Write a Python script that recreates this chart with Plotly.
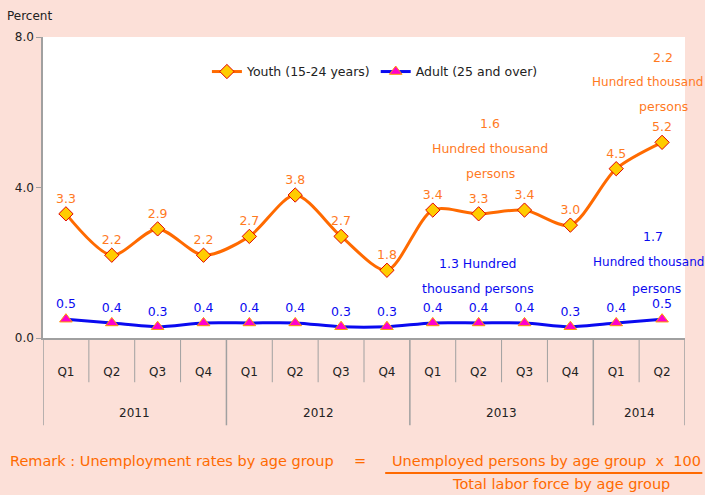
import plotly.graph_objects as go

quarters = ["Q1", "Q2", "Q3", "Q4", "Q1", "Q2", "Q3", "Q4", "Q1", "Q2", "Q3", "Q4", "Q1", "Q2"]
years = ["2011", "2012", "2013", "2014"]
youth = [3.3, 2.2, 2.9, 2.2, 2.7, 3.8, 2.7, 1.8, 3.4, 3.3, 3.4, 3.0, 4.5, 5.2]
adult = [0.5, 0.4, 0.3, 0.4, 0.4, 0.4, 0.3, 0.3, 0.4, 0.4, 0.4, 0.3, 0.4, 0.5]
y_ticks = [0, 4, 8]

xs = list(range(len(quarters)))
year_of = []
for i in xs:
    year_of.append(years[0] if i < 4 else years[1] if i < 8 else years[2] if i < 12 else years[3])

ORANGE = "#FF6A00"
LBL_OR = "#FF7A1F"
BLUE = "#0A0AF0"
BG = "#FCE0D8"
FONT = "DejaVu Sans"

fig = go.Figure()
fig.add_trace(go.Scatter(
    x=xs, y=youth, mode="lines+markers+text", name="Youth (15-24 years)",
    line=dict(color=ORANGE, width=3, shape="spline", smoothing=0.8),
    marker=dict(symbol="diamond", size=11, color="#FFCC00", line=dict(color="#E00000", width=1)),
    text=[f"{v:.1f}" for v in youth], textposition="top center",
    textfont=dict(color=LBL_OR, size=12.5, family=FONT), cliponaxis=False))
fig.add_trace(go.Scatter(
    x=xs, y=adult, mode="lines+markers+text", name="Adult (25 and over)",
    line=dict(color=BLUE, width=3, shape="spline", smoothing=0.8),
    marker=dict(symbol="triangle-up", size=11, color="#FF00CC", line=dict(color="#FF9900", width=1)),
    text=[f"{v:.1f}" for v in adult], textposition="top center",
    textfont=dict(color=BLUE, size=12.5, family=FONT), cliponaxis=False))

shapes = []
for i in range(1, len(quarters)):
    bound = i - 0.5
    is_year = year_of[i] != year_of[i - 1]
    shapes.append(dict(type="line", xref="x", yref="paper", x0=bound, x1=bound,
                       y0=0, y1=-0.29 if is_year else -0.147,
                       line=dict(color="#A0A0A0", width=1.5 if is_year else 1)))
for bound in (-0.5, len(quarters) - 0.5):
    shapes.append(dict(type="line", xref="x", yref="paper", x0=bound, x1=bound,
                       y0=0, y1=-0.29, line=dict(color="#A0A0A0", width=1.5)))
shapes.append(dict(type="line", xref="paper", yref="paper", x0=0.533, x1=1.027,
                   y0=-0.4485, y1=-0.4485, line=dict(color=ORANGE, width=2)))

annotations = []
for yr in years:
    idx = [i for i in xs if year_of[i] == yr]
    annotations.append(dict(x=sum(idx) / len(idx), xref="x", y=-0.249, yref="paper",
                            xanchor="center", yanchor="middle",
                            text=yr, showarrow=False, font=dict(size=12, color="#222", family=FONT)))

def note(txt, px, py, color, size=12.5, anchor="center"):
    annotations.append(dict(x=(px - 43) / 642, y=(338 - py) / 301, xref="paper", yref="paper",
                            xanchor=anchor, yanchor="middle",
                            text=txt, showarrow=False, font=dict(size=size, color=color, family=FONT)))

note("2.2", 663, 57, LBL_OR)
note("Hundred thousand", 647, 82, LBL_OR, 12)
note("persons", 663, 107, LBL_OR)
note("1.6", 490, 123, LBL_OR)
note("Hundred thousand", 490, 148, LBL_OR)
note("persons", 490, 173, LBL_OR)
note("1.3 Hundred", 478, 263, BLUE)
note("thousand persons", 478, 288, BLUE)
note("1.7", 653, 236, BLUE)
note("Hundred thousand", 648, 262, BLUE, 12)
note("persons", 656, 288, BLUE)
note("Percent", 29, 16, "#222", 12)

note("Remark : Unemployment rates by age group", 8, 461, ORANGE, 14.5, "left")
note("=", 360, 461, ORANGE, 14.5)
note("Unemployed persons by age group&nbsp;&nbsp;x&nbsp;&nbsp;100", 390, 461, ORANGE, 14.5, "left")
note("Total labor force by age group", 561, 484, ORANGE, 14.5)

fig.update_layout(
    width=705, height=495,
    margin=dict(l=43, r=20, t=37, b=157),
    paper_bgcolor=BG, plot_bgcolor="white",
    font=dict(family=FONT, size=12, color="#222"),
    showlegend=True,
    legend=dict(orientation="h", x=0.517, xanchor="center", y=0.884, yanchor="middle",
                bgcolor="rgba(0,0,0,0)", font=dict(size=12.5, family=FONT)),
    shapes=shapes, annotations=annotations,
    xaxis=dict(range=[-0.5, len(quarters) - 0.5], tickvals=xs, ticktext=quarters,
               showgrid=False, zeroline=False, showline=True, linecolor="#A0A0A0", linewidth=1.5,
               ticks="", ticklabelstandoff=22, tickfont=dict(size=12, color="#222")),
    yaxis=dict(range=[0, 8], tickvals=y_ticks, tickformat=".1f", showgrid=False, zeroline=False,
               showline=True, linecolor="#A0A0A0", linewidth=1.5, ticks="outside", ticklen=5,
               tickcolor="#A0A0A0", tickfont=dict(size=12, color="#222")),
)
fig.write_html("out.html")
